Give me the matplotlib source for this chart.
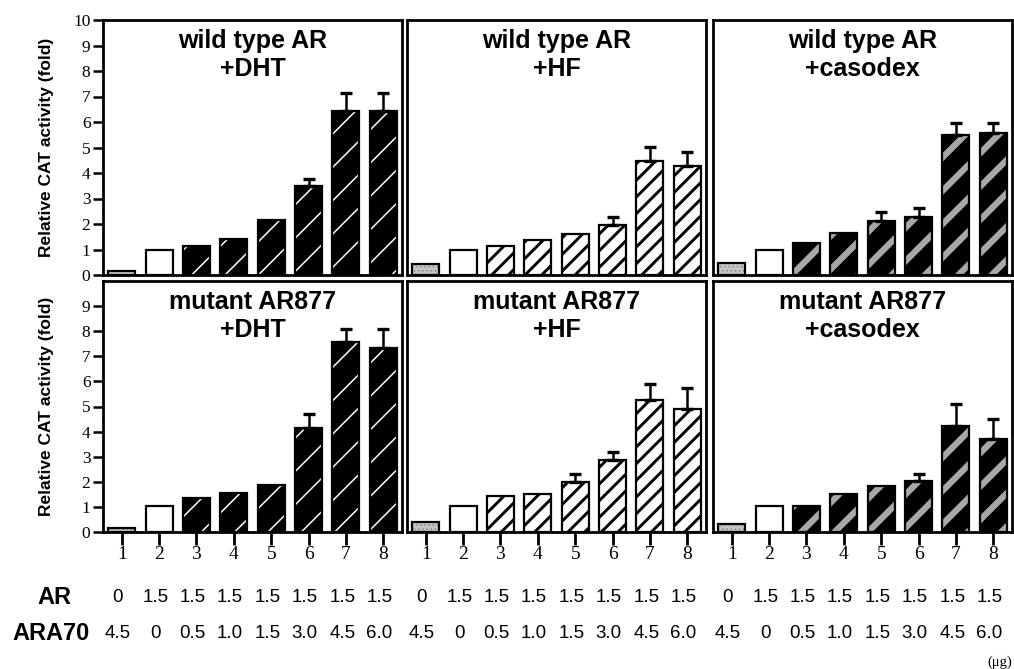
import matplotlib
matplotlib.use('Agg')
import matplotlib.pyplot as plt
import matplotlib.transforms as mtransforms

# ---------------- data ----------------
lanes = [1, 2, 3, 4, 5, 6, 7, 8]
ar_amount = ['0', '1.5', '1.5', '1.5', '1.5', '1.5', '1.5', '1.5']
ara70_amount = ['4.5', '0', '0.5', '1.0', '1.5', '3.0', '4.5', '6.0']

titles_top = ['wild type AR\n+DHT', 'wild type AR\n+HF', 'wild type AR\n+casodex']
titles_bottom = ['mutant AR877\n+DHT', 'mutant AR877\n+HF', 'mutant AR877\n+casodex']
treatments = ['DHT', 'HF', 'casodex']

wt_dht = [0.17, 1.0, 1.12, 1.42, 2.15, 3.5, 6.42, 6.42]
wt_dht_err = [0, 0, 0, 0, 0, 0.25, 0.7, 0.7]
wt_hf = [0.42, 0.98, 1.12, 1.36, 1.6, 1.98, 4.48, 4.26]
wt_hf_err = [0, 0, 0, 0, 0, 0.3, 0.55, 0.58]
wt_cas = [0.47, 1.0, 1.27, 1.63, 2.13, 2.27, 5.48, 5.56]
wt_cas_err = [0, 0, 0, 0, 0.35, 0.34, 0.5, 0.4]

mut_dht = [0.16, 1.02, 1.37, 1.55, 1.86, 4.16, 7.55, 7.32]
mut_dht_err = [0, 0, 0, 0, 0, 0.53, 0.55, 0.75]
mut_hf = [0.4, 1.04, 1.45, 1.53, 2.0, 2.88, 5.25, 4.91]
mut_hf_err = [0, 0, 0, 0, 0.3, 0.32, 0.63, 0.84]
mut_cas = [0.32, 1.04, 1.04, 1.51, 1.82, 2.05, 4.22, 3.7]
mut_cas_err = [0, 0, 0, 0, 0, 0.27, 0.87, 0.79]

top_vals = [wt_dht, wt_hf, wt_cas]
top_errs = [wt_dht_err, wt_hf_err, wt_cas_err]
bot_vals = [mut_dht, mut_hf, mut_cas]
bot_errs = [mut_dht_err, mut_hf_err, mut_cas_err]

# ---------------- styles ----------------
treat_style = {
    'DHT': dict(face='black', hcolor='white', hatch='/', hlw=1.1),
    'HF': dict(face='white', hcolor='black', hatch='//', hlw=2.1),
    'casodex': dict(face='black', hcolor='#a8a8a8', hatch='/', hlw=4.5),
}
lane1_style = dict(face='#c4c4c4', hcolor='#8a8a8a', hatch='....', hlw=0.6)
lane2_style = dict(face='white', hcolor='white', hatch='', hlw=0.5)

serif = ['Liberation Serif', 'DejaVu Serif']
sans = ['Liberation Sans', 'DejaVu Sans']

W, H = 1014, 669
fig = plt.figure(figsize=(W / 100, H / 100), dpi=100)

lefts = [103, 407, 713]
pw = 299
rows = [(20, 275), (281, 532)]


def fx(px):
    return px / W


def fy(py):
    return 1 - py / H


def draw_panel(ax, vals, errs, treat, title, bottom_row, first_col):
    bw = 0.72
    for i, (x, v) in enumerate(zip(lanes, vals)):
        if i == 0:
            st = lane1_style
        elif i == 1:
            st = lane2_style
        else:
            st = treat_style[treat]
        with plt.rc_context({'hatch.linewidth': st['hlw']}):
            b = ax.bar(x, v, width=bw, color=st['face'], edgecolor=st['hcolor'],
                       hatch=st['hatch'] if st['hatch'] else None,
                       linewidth=0, zorder=2)
            for p in b:
                if hasattr(p, 'set_hatch_linewidth'):
                    p.set_hatch_linewidth(st['hlw'])
        ax.bar(x, v, width=bw, fill=False, edgecolor='black', linewidth=1.6, zorder=3)
    ex = [x for x, e in zip(lanes, errs) if e > 0]
    ev = [v for v, e in zip(vals, errs) if e > 0]
    ee = [e for e in errs if e > 0]
    ax.errorbar(ex, ev, yerr=[[0] * len(ee), ee], fmt='none', ecolor='black',
                elinewidth=1.8, capsize=4.5, capthick=2.4, zorder=4)
    ax.set_xlim(0.5, 8.5)
    ax.set_ylim(0, 10)
    for s in ax.spines.values():
        s.set_linewidth(2)
    ax.text(0.5, 0.965, title, transform=ax.transAxes, ha='center', va='top',
            fontsize=18, fontweight='bold', family=sans, linespacing=1.2)
    if first_col:
        ticks = list(range(0, 11)) if not bottom_row else list(range(0, 10))
        ax.set_yticks(ticks)
        ax.set_yticklabels([str(t) for t in ticks], family=serif, fontsize=12.5)
        ax.tick_params(axis='y', direction='out', length=7, width=1.8, pad=2)
    else:
        ax.set_yticks([])
    if bottom_row:
        ax.set_xticks(lanes)
        ax.set_xticklabels([str(l) for l in lanes], family=serif, fontsize=14)
        ax.tick_params(axis='x', direction='out', length=9, width=2, pad=1)
    else:
        ax.set_xticks([])


for r, (ytop, ybot) in enumerate(rows):
    vals_list = top_vals if r == 0 else bot_vals
    errs_list = top_errs if r == 0 else bot_errs
    titles = titles_top if r == 0 else titles_bottom
    for c in range(3):
        ax = fig.add_axes([fx(lefts[c]), fy(ybot), fx(pw), (ybot - ytop) / H])
        draw_panel(ax, vals_list[c], errs_list[c], treatments[c], titles[c],
                   bottom_row=(r == 1), first_col=(c == 0))
        if r == 1:
            tr = mtransforms.blended_transform_factory(ax.transData, fig.transFigure)
            for x, a, b in zip(lanes, ar_amount, ara70_amount):
                fig.text(x - 0.1, fy(597), a, transform=tr, ha='center', va='center',
                         fontsize=13.5, family=sans)
                fig.text(x - 0.1, fy(633), b, transform=tr, ha='center', va='center',
                         fontsize=13.5, family=sans)
    fig.text(fx(47), fy((ytop + ybot) / 2), 'Relative CAT activity (fold)',
             rotation=90, ha='center', va='center', fontsize=12.5,
             fontweight='bold', family=sans)

fig.text(fx(54), fy(597), 'AR', ha='center', va='center', fontsize=17,
         fontweight='bold', family=sans)
fig.text(fx(51), fy(633), 'ARA70', ha='center', va='center', fontsize=17,
         fontweight='bold', family=sans)
fig.text(fx(1012), fy(662), '(\u03bcg)', ha='right', va='center', fontsize=10.5,
         family=serif)

fig.savefig('out.png', dpi=100)
